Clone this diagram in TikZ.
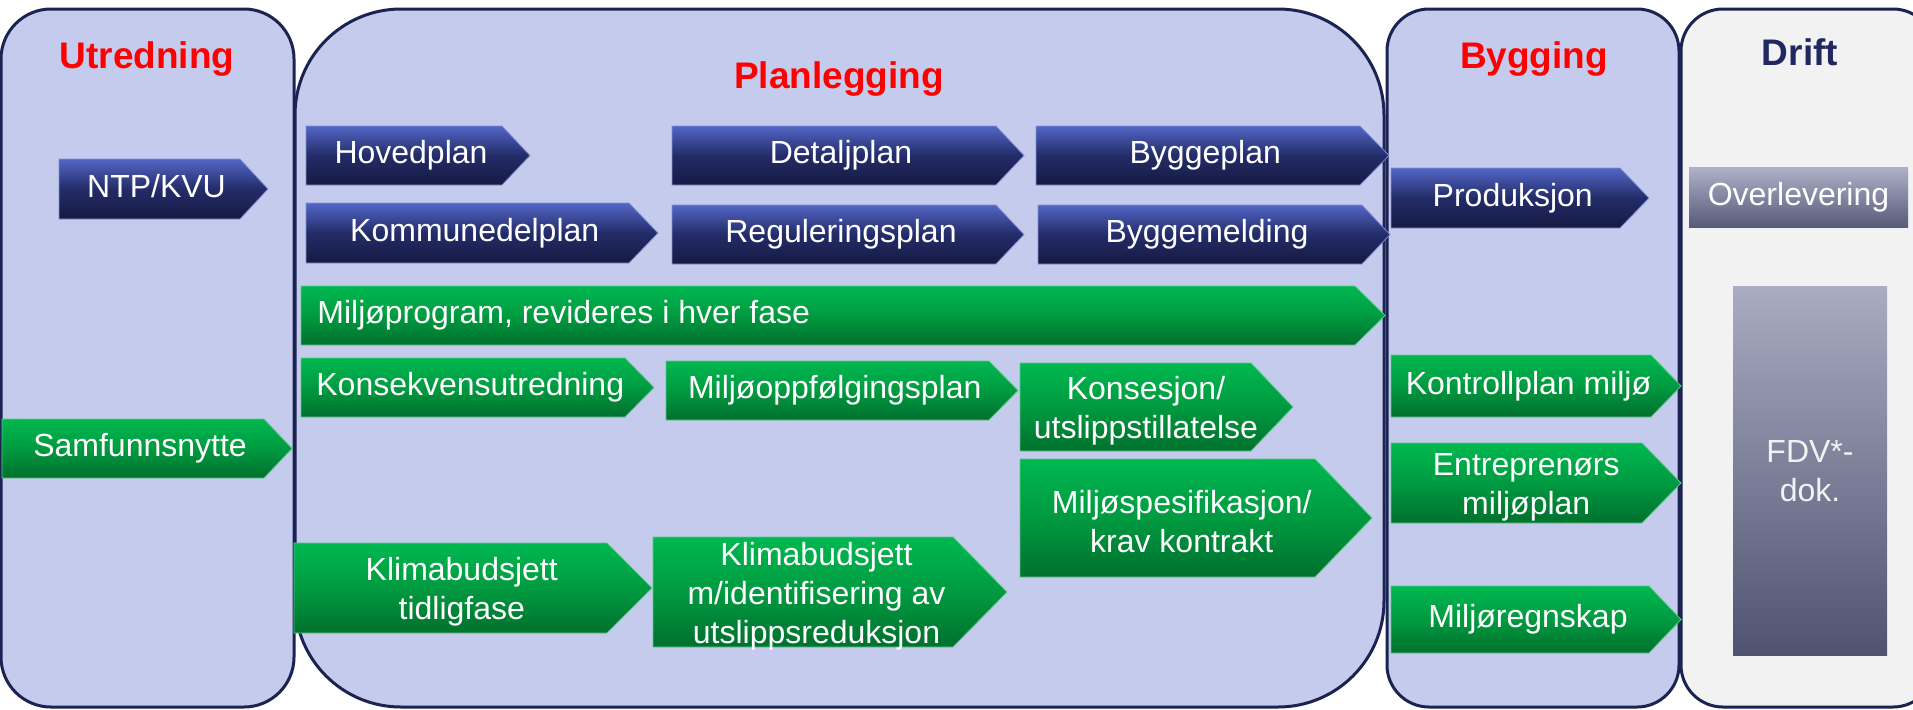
\documentclass[tikz,border=0pt]{standalone}
\usepackage{fontspec}
\setmainfont{Liberation Sans}
\definecolor{panelfill}{HTML}{C5CBEC}
\definecolor{driftfill}{HTML}{F2F2F2}
\definecolor{outl}{HTML}{1B2352}
\definecolor{titlered}{HTML}{FF0000}
\definecolor{driftnavy}{HTML}{1F2860}
\definecolor{bTop}{HTML}{5366C6}
\definecolor{bMid}{HTML}{232C68}
\definecolor{bBot}{HTML}{151A42}
\definecolor{bEdge}{HTML}{8290D4}
\definecolor{gTop}{HTML}{00B850}
\definecolor{gMid}{HTML}{009A40}
\definecolor{gBot}{HTML}{00702E}
\definecolor{gEdge}{HTML}{5CC98A}
\definecolor{oTop}{HTML}{AFB1C8}
\definecolor{oBot}{HTML}{575B78}
\definecolor{fTop}{HTML}{A9ACC2}
\definecolor{fBot}{HTML}{4F5370}
\tikzset{
  panel/.style={draw=outl, line width=1.5pt, fill=panelfill},
  bluebox/.style={top color=bTop, bottom color=bBot, middle color=bMid, draw=bEdge, line width=0.4pt},
  greenbox/.style={top color=gTop, bottom color=gBot, middle color=gMid, draw=gEdge, line width=0.4pt},
  boxtext/.style={text=white, font=\fontsize{16}{19.5}\selectfont, align=center, inner sep=0pt},
  multi/.style={yshift=-2pt},
  phase/.style={font=\fontsize{18.5}{22}\selectfont\bfseries, inner sep=0pt, text height=13.25pt, text depth=0pt},
}
\newcommand\chev[9]{%
  \shadedraw[#2] (#3,#4) -- (#5,#4) -- (#6,{(#4+#7)/2}) -- (#5,#7) -- (#3,#7) -- cycle;
  \node[boxtext,#9] (#1) at ({(#3+(#5+#6)/2)/2},{(#4+#7)/2}) {#8};
}
\begin{document}
\begin{tikzpicture}[x=0.5pt,y=-0.5pt]
\useasboundingbox (0,0) rectangle (1913,709);
% panels
\draw[panel, rounded corners=25pt] (1,9) rectangle (294,707);
\draw[panel, rounded corners=53pt] (295,9) rectangle (1384,707);
\draw[panel, rounded corners=21pt] (1387,9) rectangle (1679,707);
\draw[panel, fill=driftfill, rounded corners=21pt] (1681,9) rectangle (1935,707);
% titles
\node[phase, text=titlered] (utr) at (147,55) {Utredning};
\node[phase, text=titlered] (plan) at (839,75) {Planlegging};
\node[phase, text=titlered] (bygg) at (1534,55) {Bygging};
\node[phase, text=driftnavy] (drift) at (1800,52) {Drift};
% blue chevrons
\chev{ntp}{bluebox}{59}{159}{240}{268}{219}{\vphantom{Kp}NTP/KVU}{}
\chev{hoved}{bluebox}{306}{126}{502}{530}{185}{\vphantom{Kp}Hovedplan}{}
\chev{kdp}{bluebox}{306}{203}{629}{658}{263}{\vphantom{Kp}Kommunedelplan}{}
\chev{detalj}{bluebox}{672}{126}{996}{1024}{185}{\vphantom{Kp}Detaljplan}{}
\chev{reg}{bluebox}{672}{205}{996}{1024}{264}{\vphantom{Kp}Reguleringsplan}{}
\chev{byggeplan}{bluebox}{1036}{126}{1360}{1389}{185}{\vphantom{Kp}Byggeplan}{}
\chev{byggemeld}{bluebox}{1038}{205}{1362}{1390}{264}{\vphantom{Kp}Byggemelding}{}
\chev{prod}{bluebox}{1391}{168}{1620}{1649}{228}{\vphantom{Kp}Produksjon}{}
% green chevrons
\shadedraw[greenbox] (301,286) -- (1355,286) -- (1385,315.5) -- (1355,345) -- (301,345) -- cycle;
\node[boxtext, anchor=west] (miljoprog) at (317,315.5) {\vphantom{Kp}Miljøprogram, revideres i hver fase};
\chev{konsek}{greenbox}{301}{358}{625}{654}{417}{\vphantom{Kp}Konsekvensutredning}{}
\chev{miljoopp}{greenbox}{666}{361}{989}{1018}{420}{\vphantom{Kp}Miljøoppfølgingsplan}{}
\chev{konsesjon}{greenbox}{1020}{363}{1251}{1293}{451}{Konsesjon/\\utslippstillatelse}{multi}
\chev{miljospes}{greenbox}{1020}{459}{1315}{1372}{577}{Miljøspesifikasjon/\\krav kontrakt}{multi}
\chev{klimatidlig}{greenbox}{294}{543}{607}{652}{633}{Klimabudsjett\\tidligfase}{multi}
\chev{klimam}{greenbox}{653}{537}{953}{1007}{647}{Klimabudsjett\\m/identifisering av\\utslippsreduksjon}{multi}
\chev{samf}{greenbox}{2}{419}{264}{292}{478}{\vphantom{Kp}Samfunnsnytte}{}
\chev{kontroll}{greenbox}{1391}{355}{1651}{1681}{417}{\vphantom{Kp}Kontrollplan miljø}{}
\chev{entrep}{greenbox}{1391}{443}{1642}{1681}{523}{Entreprenørs\\miljøplan}{multi}
\chev{miljoregn}{greenbox}{1391}{586}{1649}{1681}{653}{\vphantom{Kp}Miljøregnskap}{}
% drift boxes
\shade[top color=oTop, bottom color=oBot] (1689,167) rectangle (1908,227);
\node[boxtext] (overl) at (1798.5,197) {\vphantom{Kp}Overlevering};
\shade[top color=fTop, bottom color=fBot] (1733,286) rectangle (1887,655);
\node[boxtext, text=driftfill, yshift=-0.5pt] (fdv) at (1810,470) {FDV*-\\dok.};
\end{tikzpicture}
\end{document}
